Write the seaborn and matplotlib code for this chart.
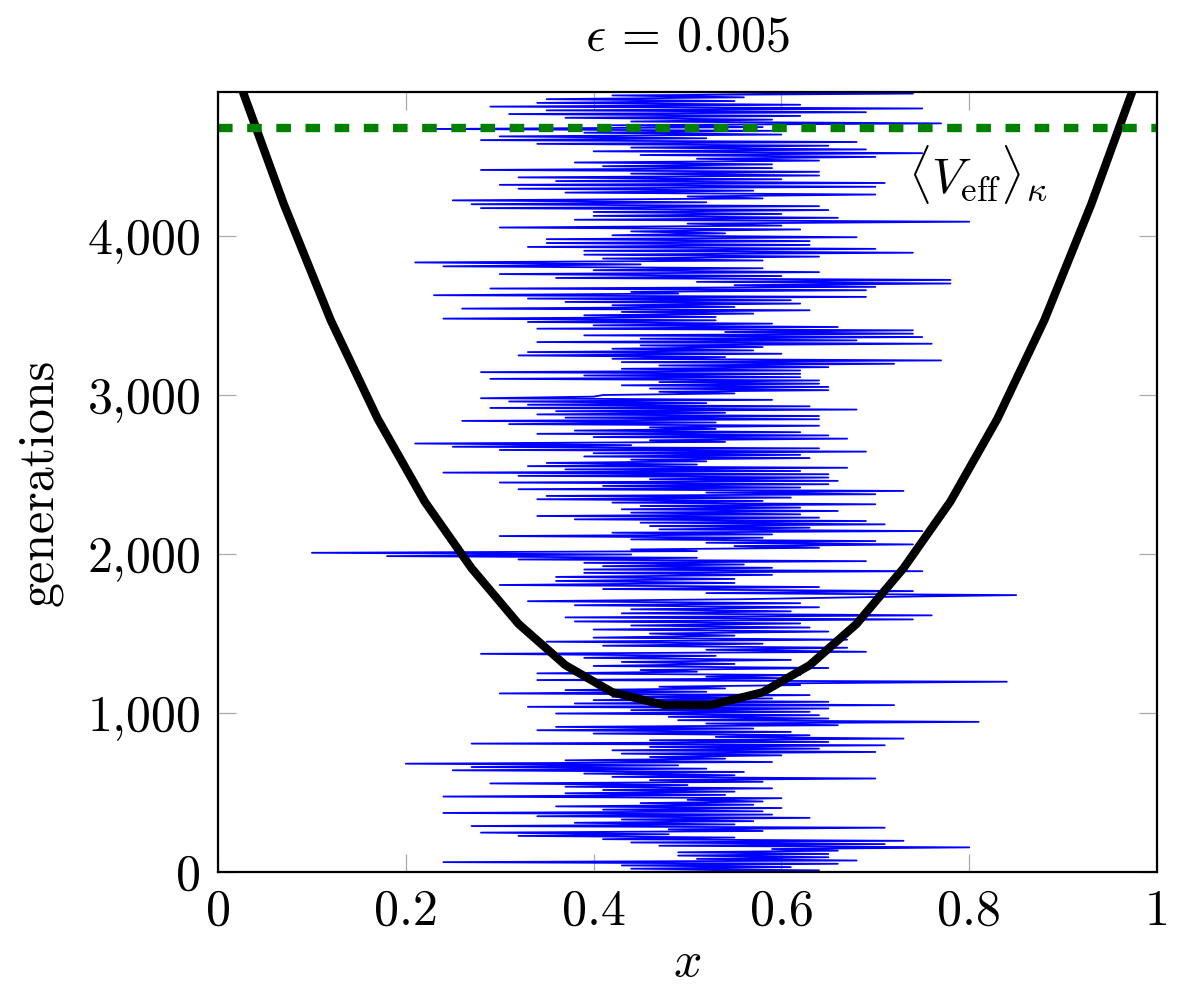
import numpy as np
import pandas as pd
import seaborn as sns
import matplotlib
matplotlib.use("Agg")
import matplotlib.pyplot as plt

# allele frequency trace (bottom -> top)
block_edges = [0, 660, 1270, 1881, 2491, 3101, 3711, 4321, 4930]

x_block_a = [0.44, 0.64, 0.44, 0.61, 0.43, 0.66, 0.24, 0.68, 0.51, 0.65, 0.49, 0.65, 0.49, 0.66,
             0.59, 0.80, 0.47, 0.71, 0.44, 0.73, 0.41, 0.55, 0.32, 0.48, 0.28, 0.58, 0.48, 0.71,
             0.27, 0.55, 0.38, 0.57, 0.43, 0.63, 0.34, 0.59, 0.24, 0.58, 0.41, 0.60, 0.36, 0.57,
             0.45, 0.58, 0.50, 0.60, 0.24, 0.54, 0.37, 0.55, 0.41, 0.59, 0.37, 0.50, 0.29, 0.58,
             0.46, 0.70, 0.42, 0.55, 0.39, 0.56, 0.25, 0.52]
x_block_b = [0.27, 0.49, 0.20, 0.59, 0.37, 0.54, 0.46, 0.60, 0.43, 0.70, 0.42, 0.64, 0.46, 0.71,
             0.27, 0.65, 0.46, 0.73, 0.53, 0.63, 0.40, 0.61, 0.34, 0.57, 0.36, 0.66, 0.52, 0.81,
             0.49, 0.65, 0.48, 0.64, 0.36, 0.63, 0.44, 0.65, 0.33, 0.72, 0.38, 0.65, 0.40, 0.59,
             0.42, 0.63, 0.30, 0.52, 0.37, 0.54, 0.47, 0.62, 0.60, 0.84, 0.34, 0.61, 0.52, 0.62,
             0.34, 0.51]
x_block_c = [0.45, 0.65, 0.40, 0.55, 0.43, 0.61, 0.39, 0.53, 0.28, 0.69, 0.52, 0.67, 0.41, 0.58,
             0.35, 0.67, 0.40, 0.55, 0.46, 0.65, 0.40, 0.63, 0.44, 0.62, 0.38, 0.74, 0.37, 0.76,
             0.43, 0.61, 0.44, 0.64, 0.38, 0.62, 0.33, 0.56, 0.69, 0.85, 0.52, 0.74, 0.41, 0.64,
             0.30, 0.55, 0.36, 0.55, 0.36, 0.59]
x_block_d = [0.39, 0.75, 0.39, 0.59, 0.41, 0.56, 0.39, 0.69, 0.32, 0.51, 0.18, 0.44, 0.10, 0.51,
             0.44, 0.64, 0.55, 0.74, 0.52, 0.70, 0.44, 0.58, 0.30, 0.59, 0.42, 0.75, 0.47, 0.63,
             0.46, 0.71, 0.45, 0.69, 0.38, 0.64, 0.34, 0.62, 0.44, 0.66, 0.43, 0.62, 0.45, 0.70,
             0.42, 0.58, 0.34, 0.61, 0.35, 0.70, 0.52, 0.73, 0.32, 0.62, 0.41, 0.65, 0.30, 0.66,
             0.46, 0.65]
x_block_e = [0.32, 0.65, 0.24, 0.62, 0.37, 0.67, 0.33, 0.51, 0.35, 0.52, 0.44, 0.63, 0.39, 0.62,
             0.40, 0.69, 0.30, 0.64, 0.25, 0.44, 0.21, 0.54, 0.46, 0.67, 0.40, 0.65, 0.34, 0.62,
             0.38, 0.53, 0.46, 0.64, 0.31, 0.53, 0.26, 0.64, 0.37, 0.64, 0.34, 0.54, 0.36, 0.68,
             0.29, 0.63, 0.33, 0.52, 0.31, 0.59, 0.28, 0.40, 0.41, 0.55, 0.47, 0.65, 0.46, 0.65,
             0.43, 0.64, 0.47, 0.64]
x_block_f = [0.29, 0.62, 0.39, 0.62, 0.28, 0.62, 0.43, 0.65, 0.47, 0.72, 0.43, 0.77, 0.42, 0.54,
             0.32, 0.60, 0.33, 0.57, 0.42, 0.58, 0.45, 0.76, 0.34, 0.68, 0.45, 0.75, 0.39, 0.74,
             0.54, 0.74, 0.34, 0.66, 0.40, 0.59, 0.33, 0.53, 0.24, 0.53, 0.39, 0.57, 0.43, 0.63,
             0.26, 0.55, 0.42, 0.62, 0.37, 0.61, 0.33, 0.69, 0.23, 0.49, 0.44, 0.69, 0.29, 0.70,
             0.55, 0.78]
x_block_g = [0.51, 0.78, 0.36, 0.60, 0.30, 0.64, 0.40, 0.58, 0.24, 0.45, 0.21, 0.58, 0.41, 0.64,
             0.39, 0.74, 0.39, 0.70, 0.33, 0.63, 0.35, 0.63, 0.35, 0.68, 0.42, 0.54, 0.44, 0.62,
             0.30, 0.60, 0.50, 0.80, 0.38, 0.66, 0.40, 0.60, 0.40, 0.65, 0.28, 0.64, 0.27, 0.52,
             0.25, 0.58, 0.50, 0.70, 0.37, 0.57, 0.32, 0.70]
x_block_h = [0.30, 0.71, 0.36, 0.60, 0.32, 0.64, 0.44, 0.64, 0.28, 0.59, 0.41, 0.59, 0.38, 0.64,
             0.51, 0.70, 0.45, 0.75, 0.40, 0.69, 0.44, 0.65, 0.34, 0.68, 0.28, 0.52, 0.30, 0.60,
             0.39, 0.59, 0.23, 0.58, 0.42, 0.77, 0.44, 0.59, 0.37, 0.62, 0.31, 0.69, 0.35, 0.75,
             0.29, 0.62, 0.34, 0.55, 0.35, 0.56, 0.42, 0.74, 0.41, 0.53]

# effective potential curve (black)
v_x = [0.025, 0.07, 0.12, 0.17, 0.22, 0.27, 0.32, 0.37, 0.42, 0.475,
       0.525, 0.58, 0.63, 0.68, 0.73, 0.78, 0.83, 0.88, 0.93, 0.975]
v_y = [4930, 4200, 3470, 2850, 2330, 1910, 1560, 1300, 1130, 1050,
       1050, 1130, 1300, 1560, 1910, 2330, 2850, 3470, 4200, 4930]

v_eff_mean = 4680

x_ticks = [0, 0.2, 0.4, 0.6, 0.8, 1]
x_tick_labels = ["0", "0.2", "0.4", "0.6", "0.8", "1"]
y_ticks = [0, 1000, 2000, 3000, 4000]
y_tick_labels = ["0", "1,000", "2,000", "3,000", "4,000"]

blocks = [x_block_a, x_block_b, x_block_c, x_block_d, x_block_e, x_block_f, x_block_g, x_block_h]
frames = []
for i, blk in enumerate(blocks):
    gens = np.linspace(block_edges[i], block_edges[i + 1], len(blk), endpoint=False)
    frames.append(pd.DataFrame({"x": blk, "gen": gens}))
trace = pd.concat(frames, ignore_index=True)

sns.set_theme(style="white")
plt.rcParams["font.family"] = ["cmr10"]
plt.rcParams["mathtext.fontset"] = "cm"
plt.rcParams["axes.formatter.use_mathtext"] = True
plt.rcParams["text.color"] = "black"
plt.rcParams["axes.labelcolor"] = "black"
plt.rcParams["xtick.labelcolor"] = "black"
plt.rcParams["ytick.labelcolor"] = "black"

FS = 36

fig = plt.figure(figsize=(12, 9.91), dpi=100)
ax = fig.add_axes([0.1817, 0.1201, 0.7825, 0.7871])

sns.lineplot(data=trace, x="x", y="gen", orient="y", sort=False, estimator=None,
             color="#0000ff", lw=1.3, ax=ax)
sns.lineplot(x=v_x, y=v_y, color="black", lw=6, ax=ax)
ax.axhline(v_eff_mean, color="#008000", lw=6, dashes=(1.75, 1.75))

ax.text(0.735, 4385, r"$\langle V_{\rm eff}\rangle_\kappa$", fontsize=FS, ha="left", va="center")

ax.set_xlim(0, 1)
ax.set_ylim(0, 4905)
ax.set_xticks(x_ticks)
ax.set_xticklabels(x_tick_labels)
ax.set_yticks(y_ticks)
ax.set_yticklabels(y_tick_labels)
ax.tick_params(direction="in", length=13, width=0.9, color="#aaaaaa",
               bottom=True, left=True, top=True, right=True, labelsize=FS, pad=12)
for s in ax.spines.values():
    s.set_color("black")
    s.set_linewidth(1.6)

ax.set_xlabel(r"$x$", fontsize=FS, labelpad=4)
ax.set_ylabel("generations", fontsize=FS, labelpad=18)
ax.set_title(r"$\epsilon\,=\,0.005$", fontsize=FS, pad=30)

fig.savefig("out.png", dpi=100)
plt.close(fig)
